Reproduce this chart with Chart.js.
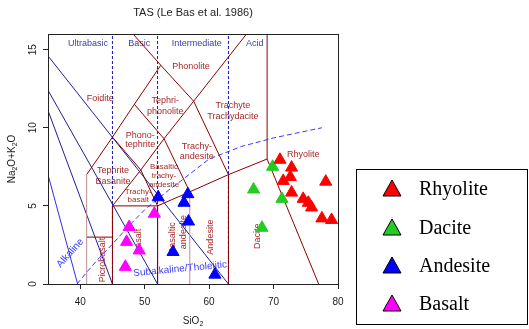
<!DOCTYPE html>
<html>
<head>
<meta charset="utf-8">
<script src="https://cdn.jsdelivr.net/npm/chart.js@4.4.0/dist/chart.umd.min.js"></script>
<style>
  html, body { margin: 0; padding: 0; background: #fff; }
</style>
</head>
<body>
<canvas id="tas" width="529" height="329"></canvas>
<script>
// --- Axis ticks ---
const xTicks = [40, 50, 60, 70, 80];
const yTicks = [0, 5, 10, 15];

// --- Samples (SiO2, Na2O+K2O) ---
const rhyoliteSiO2 = [71.0, 72.8, 72.6, 71.5, 72.8, 74.6, 75.4, 75.9, 78.1, 77.5, 79.0];
const rhyoliteAlk  = [7.95, 7.45, 6.85, 6.6, 5.85, 5.45, 5.2, 4.9, 6.55, 4.2, 4.1];
const daciteSiO2   = [69.85, 66.9, 71.3, 68.2];
const daciteAlk    = [7.5, 6.05, 5.45, 3.6];
const andesiteSiO2 = [52.1, 56.7, 56.1, 56.8, 54.4, 60.9];
const andesiteAlk  = [5.55, 5.75, 5.2, 4.0, 2.05, 0.6];
const basaltSiO2   = [51.5, 47.6, 47.2, 49.15, 47.0];
const basaltAlk    = [4.5, 3.65, 2.7, 2.15, 1.1];

// --- TAS field boundaries (Le Bas et al. 1986) ---
const fieldLines = [
  [[41, 3], [45, 3]],
  [[45, 0], [45, 5], [52, 5], [52, 0]],
  [[52, 5], [57, 5.9], [63, 7], [69, 8], [77, 0]],
  [[63, 0], [63, 7]],
  [[69, 8], [69, 16]],
  [[41, 7], [45, 9.4], [48.4, 11.5], [52.5, 14], [57.6, 11.7], [63, 7]],
  [[52.5, 14], [48.2, 16]],
  [[45, 9.4], [49.4, 7.3], [52, 5]],
  [[45, 5], [49.4, 7.3], [53, 9.3], [57.6, 11.7], [65.8, 16]],
  [[48.4, 11.5], [53, 9.3], [57, 5.9]]
];
const fieldLinesLight = [
  [[41, 0], [41, 7]],
  [[57, 0], [57, 5.9]]
];
const seriesLines = [
  [[35, 14.6], [63, 0]],
  [[35, 12.4], [52, 0]],
  [[35, 11.1], [45, 0]]
];
const alkalineLine = [[35, 7.0], [39.6, 0]];
const silicaDivisions = [45, 52, 63];
// Irvine & Baragar alkaline / subalkaline divide
const irvineBaragar = [[39.5, 0], [41, 0.75], [43, 1.7], [45, 2.55], [47.5, 3.7], [50, 4.75],
  [53.7, 6], [55, 6.4], [60, 8], [65, 8.8], [70, 9.35], [77.5, 10]];

// --- Labels ---
const divisionLabels = [
  ['Ultrabasic', 41.2, 15.4], ['Basic', 49.15, 15.4], ['Intermediate', 58.1, 15.4], ['Acid', 67.1, 15.4]
];
const fieldLabels = [
  ['Phonolite', 57.2, 13.9], ['Foidite', 43.1, 11.87],
  ['Tephri-', 53.2, 11.74], ['phonolite', 53.2, 11.04],
  ['Trachyte', 63.7, 11.42], ['Trachydacite', 63.7, 10.72],
  ['Phono-', 49.3, 9.5], ['tephrite', 49.3, 8.9],
  ['Trachy-', 58.1, 8.8], ['andesite', 58.1, 8.17],
  ['Rhyolite', 74.6, 8.3],
  ['Tephrite', 45.1, 7.27], ['Basanite', 45.1, 6.57]
];
const smallLabels = [
  ['Basaltic', 53.0, 7.47], ['trachy-', 53.0, 6.92], ['andesite', 53.0, 6.38],
  ['Trachy-', 49.0, 5.87], ['basalt', 49.0, 5.36]
];
const verticalLabels = [
  ['Picrobasalt', 43.4, 1.53], ['Basalt', 49.0, 2.74], ['Basaltic', 54.26, 2.94],
  ['andesite', 55.97, 3.32], ['Andesite', 60.15, 3.0], ['Dacite', 67.44, 3.06]
];

const sans = "'Liberation Sans', Arial, sans-serif";

function toPoints(xs, ys) {
  return xs.map((x, i) => ({ x: x, y: ys[i] }));
}
function lineSet(pts, color, dash, width) {
  return {
    type: 'line',
    data: pts.map(p => ({ x: p[0], y: p[1] })),
    borderColor: color,
    borderWidth: width || 1,
    borderDash: dash || [],
    pointRadius: 0,
    fill: false,
    tension: 0,
    order: 2
  };
}
function sampleSet(label, xs, ys, color) {
  return {
    label: label,
    data: toPoints(xs, ys),
    pointStyle: 'triangle',
    pointRadius: 7,
    backgroundColor: color,
    borderColor: color,
    borderWidth: 1,
    order: 0
  };
}

const datasets = [
  sampleSet('Rhyolite', rhyoliteSiO2, rhyoliteAlk, '#ff0000'),
  sampleSet('Dacite', daciteSiO2, daciteAlk, '#22cc22'),
  sampleSet('Andesite', andesiteSiO2, andesiteAlk, '#0000ff'),
  sampleSet('Basalt', basaltSiO2, basaltAlk, '#ff00ff'),
  ...fieldLinesLight.map(l => lineSet(l, '#bc8f8f')),
  ...fieldLines.map(l => lineSet(l, '#8b0000')),
  ...seriesLines.map(l => lineSet(l, '#1e1e9a')),
  lineSet(alkalineLine, '#3030e8'),
  ...silicaDivisions.map(x => lineSet([[x, 0], [x, 16]], '#1515c0', [3, 2])),
  lineSet(irvineBaragar, '#3a3aff', [5, 3])
];

function drawSub(ctx, parts, x, y, size) {
  // parts: [text, isSubscript]
  let total = 0;
  parts.forEach(p => {
    ctx.font = (p[1] ? size * 0.7 : size) + 'px ' + sans;
    total += ctx.measureText(p[0]).width;
  });
  let cx = x - total / 2;
  ctx.textAlign = 'left';
  ctx.textBaseline = 'middle';
  parts.forEach(p => {
    ctx.font = (p[1] ? size * 0.7 : size) + 'px ' + sans;
    ctx.fillText(p[0], cx, p[1] ? y + size * 0.35 : y);
    cx += ctx.measureText(p[0]).width;
  });
}

const tasDecor = {
  id: 'tasDecor',
  beforeDatasetsDraw(chart) {
    const ctx = chart.ctx;
    const xs = chart.scales.x, ys = chart.scales.y;
    ctx.save();
    ctx.textAlign = 'center';
    ctx.textBaseline = 'middle';
    ctx.fillStyle = '#3b3ba8';
    ctx.font = '9px ' + sans;
    divisionLabels.forEach(l => ctx.fillText(l[0], xs.getPixelForValue(l[1]), ys.getPixelForValue(l[2])));
    ctx.fillStyle = '#a52a2a';
    fieldLabels.forEach(l => ctx.fillText(l[0], xs.getPixelForValue(l[1]), ys.getPixelForValue(l[2])));
    ctx.font = '8px ' + sans;
    smallLabels.forEach(l => ctx.fillText(l[0], xs.getPixelForValue(l[1]), ys.getPixelForValue(l[2])));
    ctx.font = '9px ' + sans;
    verticalLabels.forEach(l => {
      ctx.save();
      ctx.translate(xs.getPixelForValue(l[1]), ys.getPixelForValue(l[2]));
      ctx.rotate(-Math.PI / 2);
      ctx.fillText(l[0], 0, 0);
      ctx.restore();
    });
    ctx.fillStyle = '#3a3aff';
    ctx.font = '10px ' + sans;
    ctx.save();
    ctx.translate(xs.getPixelForValue(38.45), ys.getPixelForValue(1.98));
    ctx.rotate(-48 * Math.PI / 180);
    ctx.fillText('Alkaline', 0, 0);
    ctx.restore();
    ctx.save();
    ctx.translate(xs.getPixelForValue(55.5), ys.getPixelForValue(0.96));
    ctx.rotate(-5.4 * Math.PI / 180);
    ctx.fillText('Subalkaline/Tholeiitic', 0, 0);
    ctx.restore();
    ctx.restore();
  },
  afterDraw(chart) {
    const ctx = chart.ctx;
    const a = chart.chartArea;
    ctx.save();
    // plot frame
    ctx.strokeStyle = '#222';
    ctx.lineWidth = 1;
    ctx.strokeRect(Math.round(a.left) + 0.5, Math.round(a.top) + 0.5, Math.round(a.right - a.left), Math.round(a.bottom - a.top));
    // title
    ctx.fillStyle = '#222';
    ctx.font = '11px ' + sans;
    ctx.textAlign = 'center';
    ctx.textBaseline = 'middle';
    ctx.fillText('TAS (Le Bas et al. 1986)', (a.left + a.right) / 2, 13);
    // axis titles
    drawSub(ctx, [['SiO', false], ['2', true]], (a.left + a.right) / 2, 321, 10);
    ctx.save();
    ctx.translate(12, (a.top + a.bottom) / 2);
    ctx.rotate(-Math.PI / 2);
    drawSub(ctx, [['Na', false], ['2', true], ['O+K', false], ['2', true], ['O', false]], 0, 0, 10);
    ctx.restore();
    // legend
    ctx.strokeStyle = '#000';
    ctx.strokeRect(356.5, 169.5, 171, 155);
    const rows = [189, 228, 266, 304];
    const samples = chart.data.datasets.filter(d => d.label);
    samples.forEach((d, i) => {
      const cx = 392, cy = rows[i];
      ctx.beginPath();
      ctx.moveTo(cx, cy - 9);
      ctx.lineTo(cx - 9, cy + 7);
      ctx.lineTo(cx + 9, cy + 7);
      ctx.closePath();
      ctx.fillStyle = d.backgroundColor;
      ctx.fill();
      ctx.strokeStyle = '#000';
      ctx.stroke();
      ctx.fillStyle = '#000';
      ctx.font = "20px 'Liberation Serif', 'Times New Roman', serif";
      ctx.textAlign = 'left';
      ctx.textBaseline = 'middle';
      ctx.fillText(d.label, 419, cy + 1);
    });
    ctx.restore();
  }
};

new Chart(document.getElementById('tas'), {
  type: 'scatter',
  data: { datasets: datasets },
  options: {
    responsive: false,
    animation: false,
    devicePixelRatio: 1,
    layout: { padding: { left: 0, right: 191, top: 34, bottom: 0 } },
    plugins: { legend: { display: false }, tooltip: { enabled: false }, title: { display: false } },
    scales: {
      x: {
        type: 'linear', min: 35, max: 80,
        afterBuildTicks: s => { s.ticks = xTicks.map(v => ({ value: v })); },
        afterFit: s => { s.height = 45; },
        grid: { drawOnChartArea: false, drawTicks: true, tickLength: 5, color: '#222' },
        border: { display: false },
        ticks: { font: { family: sans, size: 10 }, color: '#222', padding: 7, maxRotation: 0 }
      },
      y: {
        type: 'linear', min: 0, max: 16,
        afterBuildTicks: s => { s.ticks = yTicks.map(v => ({ value: v })); },
        afterFit: s => { s.width = 48; },
        grid: { drawOnChartArea: false, drawTicks: true, tickLength: 5, color: '#222' },
        border: { display: false },
        ticks: { font: { family: sans, size: 10 }, color: '#222', padding: 4, minRotation: 90, maxRotation: 90, crossAlign: 'center' }
      }
    }
  },
  plugins: [tasDecor]
});
</script>
</body>
</html>
